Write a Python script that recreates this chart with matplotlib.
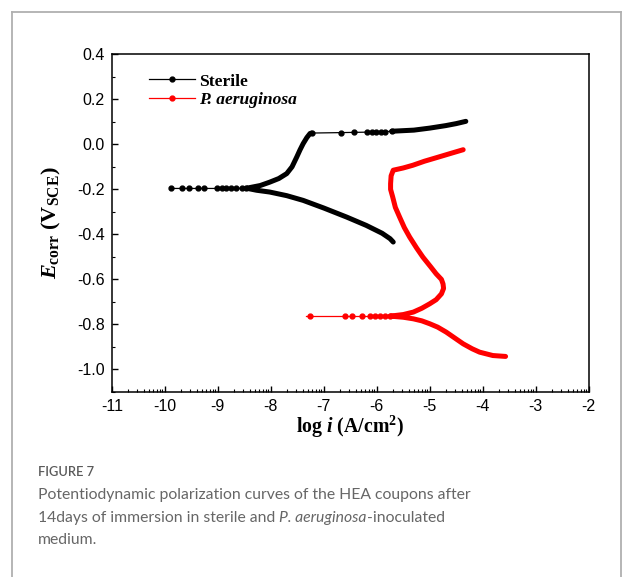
import numpy as np
import matplotlib
matplotlib.use('Agg')
import matplotlib.pyplot as plt
from matplotlib.lines import Line2D
from matplotlib.ticker import FixedLocator, MultipleLocator

plt.rcParams['axes.unicode_minus'] = False
plt.rcParams['mathtext.fontset'] = 'custom'
plt.rcParams['mathtext.rm'] = 'Liberation Serif:bold'
plt.rcParams['mathtext.it'] = 'Liberation Serif:bold:italic'

# Sterile: sparse dotted part near Ecorr (left)
st_left_x = [-9.89, -9.67, -9.54, -9.38, -9.26, -9.02, -8.93, -8.84, -8.75, -8.65, -8.55, -8.46]
st_left_y = [-0.196, -0.196, -0.196, -0.196, -0.196, -0.196, -0.196, -0.196, -0.196, -0.196, -0.195, -0.195]
# Sterile: dense cathodic + anodic branch
st_dense_x = [-5.69, -5.75, -5.9, -6.2, -6.57, -7.0, -7.39, -7.7, -8.02, -8.27, -8.46,
              -8.2, -8.02, -7.85, -7.70, -7.60, -7.51, -7.45, -7.39, -7.32, -7.26, -7.23]
st_dense_y = [-0.434, -0.419, -0.395, -0.36, -0.323, -0.283, -0.249, -0.228, -0.212, -0.204, -0.195,
              -0.183, -0.168, -0.152, -0.130, -0.100, -0.056, -0.025, 0.003, 0.030, 0.048, 0.050]
# Sterile: sparse part of the upper branch
st_top_x = [-7.23, -6.67, -6.43, -6.19, -6.10, -6.02, -5.93, -5.84, -5.72]
st_top_y = [0.050, 0.052, 0.053, 0.054, 0.054, 0.055, 0.055, 0.056, 0.058]
st_end_x = [-5.72, -5.3, -5.0, -4.7, -4.5, -4.32]
st_end_y = [0.058, 0.063, 0.072, 0.083, 0.092, 0.102]

# P. aeruginosa: sparse part near Ecorr
pa_left_x = [-7.33, -7.26, -6.60, -6.46, -6.27, -6.12, -6.04, -5.94, -5.85, -5.75]
pa_left_y = [-0.763] * 10
# P. aeruginosa: dense curve (anodic top -> Ecorr -> cathodic end)
pa_dense_x = [-4.37, -4.6, -4.87, -5.1, -5.32, -5.5, -5.69, -5.73, -5.74, -5.74, -5.70, -5.65,
              -5.57, -5.48, -5.38, -5.25, -5.13, -4.98, -4.88, -4.78, -4.75, -4.74, -4.78,
              -4.88, -5.0, -5.15, -5.31, -5.50, -5.75,
              -5.5, -5.31, -5.15, -5.0, -4.85, -4.69, -4.53, -4.37, -4.2, -4.06, -3.81, -3.57]
pa_dense_y = [-0.024, -0.040, -0.059, -0.075, -0.093, -0.105, -0.115, -0.14, -0.175, -0.20, -0.234, -0.28,
              -0.323, -0.37, -0.412, -0.46, -0.501, -0.545, -0.575, -0.60, -0.620, -0.640, -0.664,
              -0.69, -0.708, -0.728, -0.745, -0.756, -0.763,
              -0.768, -0.775, -0.784, -0.797, -0.812, -0.834, -0.86, -0.886, -0.908, -0.923, -0.938, -0.942]

fig = plt.figure(figsize=(6.25, 5.77), dpi=100)
ax = fig.add_axes([0.179, 0.3206, 0.763, 0.5854])

ax.plot(st_left_x, st_left_y, '-o', color='black', lw=0.9, ms=3.5)
ax.plot(st_dense_x, st_dense_y, '-', color='black', lw=3.6, solid_capstyle='round')
ax.plot(st_top_x, st_top_y, '-o', color='black', lw=0.9, ms=3.5)
ax.plot(st_end_x, st_end_y, '-', color='black', lw=3.6, solid_capstyle='round')

ax.plot(pa_left_x[1:], pa_left_y[1:], 'o', color='red', ms=3.5)
ax.plot(pa_left_x, pa_left_y, '-', color='red', lw=0.9)
ax.plot(pa_dense_x, pa_dense_y, '-', color='red', lw=3.6, solid_capstyle='round')

ax.set_xlim(-11, -2)
ax.set_ylim(-1.1, 0.4)
ax.set_xticks(np.arange(-11, -1, 1))
minor = [d + np.log10(k) for d in range(-11, -2) for k in range(2, 10)]
ax.xaxis.set_minor_locator(FixedLocator(minor))
ax.set_yticks([-1.0, -0.8, -0.6, -0.4, -0.2, 0.0, 0.2, 0.4])
ax.set_yticklabels(['-1.0', '-0.8', '-0.6', '-0.4', '-0.2', '0.0', '0.2', '0.4'])
ax.yaxis.set_minor_locator(MultipleLocator(0.1))
ax.tick_params(which='both', direction='in', top=False, right=False,
               labelsize=11.5, labelfontfamily='Liberation Sans')
ax.tick_params(which='major', length=4, width=1, pad=5)
ax.tick_params(which='minor', length=2.2, width=0.8)
for s in ax.spines.values():
    s.set_linewidth(1.1)

ax.set_xlabel(r'log $i$ (A/cm$^{2}$)', fontsize=14.3, family='Liberation Serif',
              fontweight='bold', labelpad=0)
ax.set_ylabel(r'$E_{\mathrm{corr}}$ (V$_{\mathrm{SCE}}$)', fontsize=16, family='Liberation Serif',
              fontweight='bold', labelpad=10)

handles = [Line2D([], [], color='black', marker='o', lw=0.9, ms=3.5),
           Line2D([], [], color='red', marker='o', lw=0.9, ms=3.5)]
leg = ax.legend(handles, ['Sterile', 'P. aeruginosa'], loc='upper left', frameon=False,
                prop={'family': 'Liberation Serif', 'weight': 'bold', 'size': 12.6},
                handlelength=2.6, handletextpad=0.25, labelspacing=0.15,
                bbox_to_anchor=(0.045, 0.99))
leg.get_texts()[1].set_style('italic')

# outer frame of the figure panel
bc = '#b0b0b0'
fig.add_artist(Line2D([12 / 625, 12 / 625], [0, 1 - 12 / 577], transform=fig.transFigure, color=bc, lw=1.3))
fig.add_artist(Line2D([12 / 625, 621 / 625], [1 - 12 / 577, 1 - 12 / 577], transform=fig.transFigure, color=bc, lw=1.3))
fig.add_artist(Line2D([621 / 625, 621 / 625], [0, 1 - 12 / 577], transform=fig.transFigure, color=bc, lw=1.3))

cf = 'Lato'
cc = '#666666'
fig.text(38 / 625, 1 - 472 / 577, 'FIGURE 7', family=cf, fontsize=9.3, color='#5a5a5a',
         va='center', ha='left', fontweight='semibold')
t1 = fig.text(38 / 625, 1 - 495 / 577, 'Potentiodynamic polarization curves of the HEA coupons after',
              family=cf, fontsize=12.5, color=cc, va='center')
fig.canvas.draw()
# fit caption to the width seen in the reference
fs = 12.5 * 435 / t1.get_window_extent().width
t1.set_fontsize(fs)
t2a = fig.text(38 / 625, 1 - 518 / 577, '14days of immersion in sterile and ', family=cf,
               fontsize=fs, color=cc, va='center')
fig.canvas.draw()
bb = t2a.get_window_extent()
t2b = fig.text(bb.x1 / 625, 1 - 518 / 577, 'P. aeruginosa', family=cf, style='italic',
               fontsize=fs, color=cc, va='center')
fig.canvas.draw()
bb2 = t2b.get_window_extent()
fig.text(bb2.x1 / 625, 1 - 518 / 577, '-inoculated', family=cf,
         fontsize=fs, color=cc, va='center')
fig.text(38 / 625, 1 - 540 / 577, 'medium.', family=cf, fontsize=fs, color=cc, va='center')

fig.savefig('out.png', dpi=100)
